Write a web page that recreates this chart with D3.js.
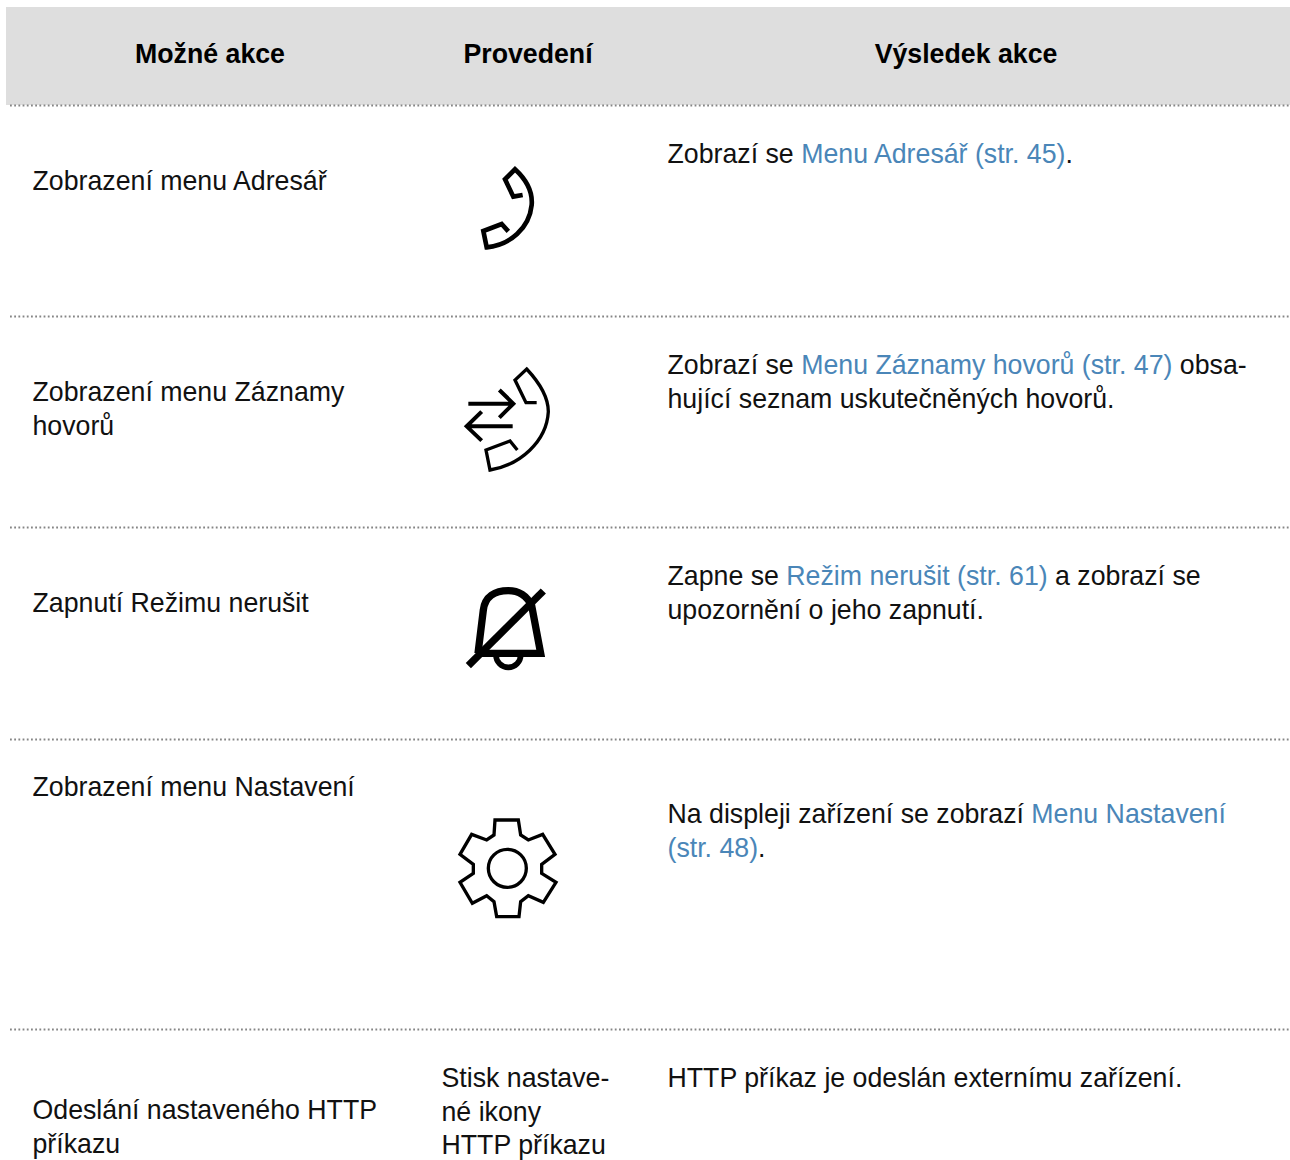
<!DOCTYPE html>
<html>
<head>
<meta charset="utf-8">
<style>
html, body { margin: 0; padding: 0; background: #fff; }
svg { display: block; }
text { font-family: "Liberation Sans", Arial, sans-serif; font-size: 26.72px; fill: #111; }
.head { font-weight: bold; fill: #000; text-anchor: middle; }
.link { fill: #4a86b8; }
.icon { fill: none; stroke: #000; stroke-linejoin: miter; }
</style>
</head>
<body>
<script src="https://d3js.org/d3.v7.min.js"></script>
<script>
var headers = ["Možné akce", "Provedení", "Výsledek akce"];

// one entry per table row, one inner entry per printed line
var actions = [
  ["Zobrazení menu Adresář"],
  ["Zobrazení menu Záznamy", "hovorů"],
  ["Zapnutí Režimu nerušit"],
  ["Zobrazení menu Nastavení"],
  ["Odeslání nastaveného HTTP", "příkazu"]
];
var howTo = [[], [], [], [], ["Stisk nastave-", "né ikony", "HTTP příkazu"]];

// [text, isLink] pieces of each line
var results = [
  [[["Zobrazí se ", 0], ["Menu Adresář (str. 45)", 1], [".", 0]]],
  [[["Zobrazí se ", 0], ["Menu Záznamy hovorů (str. 47)", 1], [" obsa-", 0]],
   [["hující seznam uskutečněných hovorů.", 0]]],
  [[["Zapne se ", 0], ["Režim nerušit (str. 61)", 1], [" a zobrazí se", 0]],
   [["upozornění o jeho zapnutí.", 0]]],
  [[["Na displeji zařízení se zobrazí ", 0], ["Menu Nastavení", 1]],
   [["(str. 48)", 1], [".", 0]]],
  [[["HTTP příkaz je odeslán externímu zařízení.", 0]]]
];

var width = 1290, height = 1160, lineH = 33.4;
var colX = [32.5, 441.5, 667.5], headX = [210, 528, 966];
var ruleY = [105, 316, 527, 739, 1029];
var actionY = [190.3, 401.3, 612.3, 796.3, 1119.3];
var howY = [0, 0, 0, 0, 1087.3];
var resultY = [163.3, 374.3, 585.3, 823.3, 1087.3];

var svg = d3.select("body").append("svg")
    .attr("width", width)
    .attr("height", height);

// header band
svg.append("rect")
    .attr("x", 6).attr("y", 7)
    .attr("width", width - 6).attr("height", 98)
    .attr("fill", "#dedede");

svg.selectAll(".head")
    .data(headers)
  .enter().append("text")
    .attr("class", "head")
    .attr("x", function(d, i) { return headX[i]; })
    .attr("y", 63.3)
    .text(function(d) { return d; });

// dotted row rules
svg.selectAll(".rule")
    .data(ruleY)
  .enter().append("line")
    .attr("class", "rule")
    .attr("x1", 10).attr("x2", width)
    .attr("y1", function(d) { return d + 0.5; })
    .attr("y2", function(d) { return d + 0.5; })
    .attr("stroke", "#858585")
    .attr("stroke-width", 1.8)
    .attr("stroke-dasharray", "1.8 2.4");

function plainColumn(rows, x, ys) {
  rows.forEach(function(lines, r) {
    svg.append("g").selectAll("text")
        .data(lines)
      .enter().append("text")
        .attr("x", x)
        .attr("y", function(d, i) { return ys[r] + i * lineH; })
        .text(function(d) { return d; });
  });
}
plainColumn(actions, colX[0], actionY);
plainColumn(howTo, colX[1], howY);

results.forEach(function(lines, r) {
  var t = svg.append("g").selectAll("text")
      .data(lines)
    .enter().append("text")
      .attr("x", colX[2])
      .attr("y", function(d, i) { return resultY[r] + i * lineH; });
  t.selectAll("tspan")
      .data(function(d) { return d; })
    .enter().append("tspan")
      .attr("class", function(d) { return d[1] ? "link" : null; })
      .text(function(d) { return d[0]; });
});

// icons, traced at 3x and scaled down
function icon(x, y) {
  return svg.append("g").attr("transform", "translate(" + x + "," + y + ") scale(" + (1 / 3) + ")");
}

icon(450, 150).append("path").attr("class", "icon").attr("stroke-width", 14)
    .attr("d", "M218,135 L190,140 L165,88 L195,58 C232,92 248,130 245,165 C238,235 180,285 110,292 L100,243 L155,222 L175,244");

var calls = icon(450, 355);
calls.append("path").attr("class", "icon").attr("stroke-width", 10)
    .attr("d", "M260,143 L228,143 L195,75 L230,42 C275,90 295,130 295,170 C290,260 210,330 120,345 L108,285 L180,258 L202,285");
calls.append("path").attr("class", "icon").attr("stroke-width", 12)
    .attr("d", "M55,146 H188 M148,105 L190,146 L148,188 M188,214 H52 M95,170 L50,214 L95,257");

var bell = icon(450, 575);
bell.append("path").attr("class", "icon").attr("stroke-width", 22)
    .attr("d", "M84,235 L100,105 C105,65 135,47 175,47 C205,47 230,62 245,92 L272,235 H95");
bell.append("path").attr("class", "icon").attr("stroke-width", 22)
    .attr("d", "M55,272 L280,48");
bell.append("path").attr("class", "icon").attr("stroke-width", 17)
    .attr("d", "M138,240 A37,37 0 0 0 212,240");

var gear = icon(450, 805);
gear.append("path").attr("class", "icon").attr("stroke-width", 10)
    .attr("d", "M135,45 L205,45 L212,90 L235,105 L278,88 L315,148 L275,178 L275,205 L318,232 L280,292 L235,272 L212,290 L207,335 L140,335 L132,290 L110,272 L67,295 L30,232 L70,205 L70,178 L30,148 L65,88 L110,105 L132,90 Z");
gear.append("circle").attr("class", "icon").attr("stroke-width", 10)
    .attr("cx", 172).attr("cy", 190).attr("r", 57);
</script>
</body>
</html>
